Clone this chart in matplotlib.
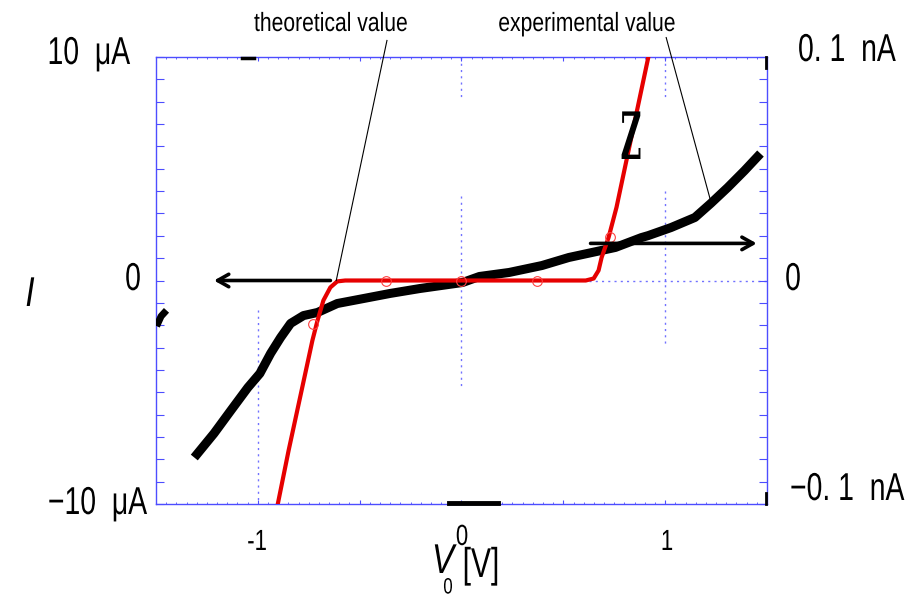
import matplotlib
matplotlib.use("Agg")
import matplotlib.pyplot as plt
from matplotlib.patheffects import AbstractPathEffect
from matplotlib.transforms import Affine2D

# measured I-V curve (normalised to the axis range, V in volts)
exp_v = [-1.312, -1.215, -1.132, -1.049, -0.990, -0.937, -0.888, -0.839, -0.776,
         -0.707, -0.610, -0.483, -0.351, -0.205, 0.005, 0.088, 0.234, 0.395,
         0.527, 0.639, 0.756, 0.883, 0.917, 1.029, 1.146, 1.224, 1.307, 1.390, 1.468]
exp_i = [-0.792, -0.684, -0.581, -0.479, -0.416, -0.326, -0.255, -0.192, -0.157,
         -0.143, -0.103, -0.081, -0.058, -0.036, -0.009, 0.018, 0.036, 0.067,
         0.103, 0.125, 0.148, 0.192, 0.201, 0.237, 0.282, 0.345, 0.416, 0.492, 0.568]

# theoretical curve
th_v = [-0.902, -0.849, -0.732, -0.707, -0.678, -0.644, -0.610, -0.571,
        0.610, 0.649, 0.673, 0.688, 0.722, 0.761, 0.917]
th_i = [-1.0, -0.761, -0.268, -0.179, -0.089, -0.031, -0.004, 0.0,
        0.0, 0.009, 0.045, 0.103, 0.192, 0.327, 0.998]

# open circles on the theoretical curve
mark_v = [-0.73, -0.37, 0.0, 0.37, 0.73]
mark_i = [-0.195, 0.0, 0.0, 0.0, 0.195]

# stray clipped bits of the measured trace at the frame
stray_left_v = [-1.49, -1.475, -1.46]
stray_left_i = [-0.19, -0.16, -0.145]
stray_bottom_v = [-0.06, 0.18]
stray_top_v = [-1.08, -1.02]

left_labels = ["10  \u03bcA", "0", "\u221210  \u03bcA"]
right_labels = ["0. 1  nA", "0", "\u22120. 1  nA"]
x_labels = ["-1", "0", "1"]
x_label_pos = [-1, 0, 1]

W, H = 909, 599
BLUE = "#4d4dff"
FONT = ["Liberation Sans", "DejaVu Sans"]


class Squeeze(AbstractPathEffect):
    """narrow the glyphs horizontally around x = cx (display pixels)"""

    def __init__(self, sx, cx):
        super().__init__()
        self.sx = sx
        self.cx = cx

    def draw_path(self, renderer, gc, tpath, affine, rgbFace=None):
        squeeze = Affine2D().translate(-self.cx, 0).scale(self.sx, 1).translate(self.cx, 0)
        renderer.draw_path(gc, tpath, affine + squeeze, rgbFace)


fig = plt.figure(figsize=(W / 100, H / 100), dpi=100)
ax = fig.add_axes([156 / W, 1 - 504 / H, 611 / W, 447 / H])
ax.set_xlim(-1.5, 1.5)
ax.set_ylim(-1, 1)

for s in ax.spines.values():
    s.set_color(BLUE)
    s.set_linewidth(1.0)

ax.set_xticks([-1, -0.5, 0, 0.5, 1])
ax.set_xticks([x / 20 for x in range(-30, 31)], minor=True)
ax.set_yticks([y / 10 for y in range(-10, 11)])
ax.tick_params(axis="both", which="major", direction="in", length=5, color=BLUE,
               top=True, right=True, labelleft=False, labelbottom=False)
ax.tick_params(axis="y", which="major", length=6)
ax.tick_params(axis="x", which="minor", direction="in", length=1.5, color=BLUE,
               top=True, bottom=True)
ax.tick_params(axis="x", which="major", length=3)

# dotted guide pieces
dot = dict(color=BLUE, lw=1.0, ls=(0, (1.5, 3)), alpha=0.8)
ax.plot([-1, -1], [-0.134, -1], **dot)
ax.plot([0, 0], [1, 0.82], **dot)
ax.plot([0, 0], [0.38, -0.47], **dot)
ax.plot([1, 1], [1, 0.81], **dot)
ax.plot([1, 1], [0.40, -0.29], **dot)
ax.plot([0.624, 1.5], [0, 0], **dot)

# measured trace
ax.plot(exp_v, exp_i, color="black", lw=6.5, solid_capstyle="butt", zorder=3)
ax.plot(stray_left_v, stray_left_i, color="black", lw=5, zorder=3)
ax.plot(stray_bottom_v, [-0.995, -0.995], color="black", lw=3.5, zorder=3, clip_on=False)
ax.plot(stray_top_v, [0.995, 0.995], color="black", lw=2.5, zorder=3, clip_on=False)
ax.plot([1.493, 1.493], [1, 0.95], color="black", lw=2, zorder=3, clip_on=False)
ax.plot([1.493, 1.493], [-1, -0.95], color="black", lw=2, zorder=3, clip_on=False)

# theoretical curve
ax.plot(th_v, th_i, color="#e60000", lw=3, zorder=4, solid_joinstyle="round")
ax.plot(mark_v, mark_i, ls="none", marker="o", ms=7, mfc="none", mec="#ff4040",
        mew=0.8, zorder=5)

# arrows
arr = dict(arrowstyle="->,head_length=0.8,head_width=0.45", color="black", lw=2.6)
ax.annotate("", xy=(-1.229, 0), xytext=(-0.63, 0), arrowprops=arr, zorder=6)
ax.annotate("", xy=(1.463, 0.166), xytext=(0.62, 0.166), arrowprops=arr, zorder=6)

# leader lines for the two labels
ax.plot([-0.366, -0.615], [1.074, 0.0], color="black", lw=0.8, clip_on=False, zorder=6)
ax.plot([1.005, 1.22], [1.087, 0.367], color="black", lw=0.8, clip_on=False, zorder=6)


def label(xp, yp, s, size, sx, ha="center", va="center", **kw):
    kw.setdefault("family", FONT)
    t = fig.text(xp / W, 1 - yp / H, s, fontsize=size, ha=ha, va=va, **kw)
    t.set_path_effects([Squeeze(sx, xp)])
    return t


label(331, 24, "theoretical value", 19, 0.8)
label(587, 24, "experimental value", 19, 0.8)

label(130, 54, left_labels[0], 28, 0.73, ha="right")
label(133, 280, left_labels[1], 28, 0.73)
label(147, 504, left_labels[2], 28, 0.73, ha="right")
label(798, 51, right_labels[0], 28, 0.73, ha="left")
label(793, 280, right_labels[1], 28, 0.73)
label(790, 490, right_labels[2], 28, 0.73, ha="left")

for lab, v, y in zip(x_labels, x_label_pos, [542, 537, 542]):
    label(462 + 205 * v, y, lab, 21, 0.76)

label(30, 295, "I", 30, 0.8, style="italic")
label(443, 562, "V", 30, 0.8, style="italic")
label(448, 588, "0", 16, 0.76)
label(481, 566, "[V]", 30, 0.72)

# odd serif Z fragment in the upper right
label(631, 141, "Z", 47, 0.44, family="DejaVu Serif", weight="bold")

fig.savefig("out.png", dpi=100)
